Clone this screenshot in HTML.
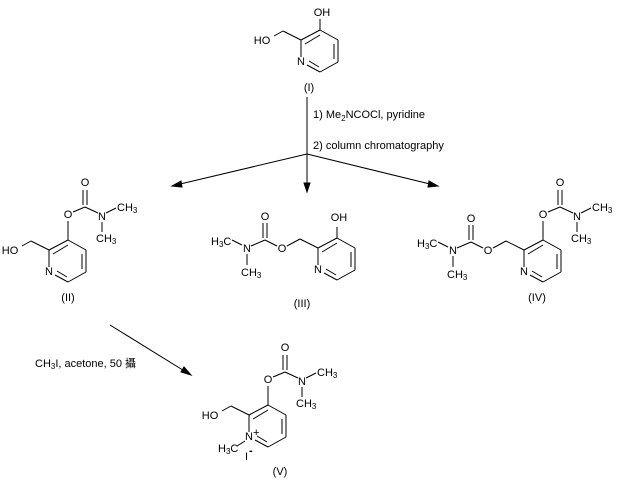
<!DOCTYPE html>
<html><head><style>
body{margin:0;background:#fff;}
svg{display:block;}
text{font-family:"Liberation Sans","Noto Sans CJK SC",sans-serif;font-size:11px;fill:#000;}
.c{text-anchor:middle;dominant-baseline:central;}
</style></head><body>
<svg width="617" height="488" viewBox="0 0 617 488" xmlns="http://www.w3.org/2000/svg" stroke="#000" stroke-width="1" fill="none">
<defs>
<g id="ring">
<line x1="-19" y1="10" x2="0" y2="0"/>
<line x1="0" y1="0" x2="18" y2="10"/>
<line x1="18" y1="10" x2="18" y2="32"/>
<line x1="18" y1="32" x2="0" y2="42"/>
<line x1="0" y1="42" x2="-13" y2="35"/>
<line x1="-19" y1="27" x2="-19" y2="10"/>
<line x1="-15" y1="14" x2="0" y2="5"/>
<line x1="14" y1="14" x2="14" y2="29"/>
<line x1="-1" y1="37" x2="-11" y2="31"/>
<line x1="-19" y1="10" x2="-37" y2="1"/>
</g>
<g id="carbU">
<line x1="0" y1="0" x2="0" y2="-19"/>
<line x1="5" y1="-28" x2="17" y2="-33"/>
<line x1="15" y1="-35" x2="15" y2="-50"/>
<line x1="19" y1="-35" x2="19" y2="-50"/>
<line x1="17" y1="-33" x2="30" y2="-27"/>
<line x1="38" y1="-27" x2="48" y2="-32"/>
<line x1="34" y1="-18" x2="34" y2="-8"/>
</g>
<g id="carbL">
<line x1="-37" y1="1" x2="-50" y2="8"/>
<line x1="-60" y1="8" x2="-72" y2="2"/>
<line x1="-74" y1="0" x2="-74" y2="-15"/>
<line x1="-70" y1="0" x2="-70" y2="-15"/>
<line x1="-72" y1="2" x2="-86" y2="8"/>
<line x1="-95" y1="7" x2="-105" y2="2"/>
<line x1="-90" y1="16" x2="-90" y2="27"/>
</g>
</defs>

<!-- I -->
<g transform="translate(320,30)">
<use href="#ring"/>
<line x1="0" y1="0" x2="0" y2="-11"/>
<line x1="-37" y1="1" x2="-46" y2="6"/>
<g stroke="none">
<text class="c" x="2" y="-17">OH</text>
<text class="c" x="-58" y="11">HO</text>
<text class="c" x="-19" y="32">N</text>
<text class="c" x="-11" y="58">(I)</text>
</g>
</g>

<!-- arrows -->
<line x1="307" y1="97" x2="307" y2="186"/>
<line x1="307" y1="154" x2="176" y2="185"/>
<line x1="307" y1="154" x2="434" y2="185"/>
<polygon points="307,192 304,183 310,183" fill="#000"/>
<polygon points="172,186 181,181 182,187" fill="#000"/>
<polygon points="438,186 428,187 429,181" fill="#000"/>
<g stroke="none">
<text x="313" y="118">1) Me<tspan font-size="8" dy="3">2</tspan><tspan dy="-3">NCOCl, pyridine</tspan></text>
<text x="313" y="149">2) column chromatography</text>
</g>

<!-- II -->
<g transform="translate(68,240)">
<use href="#ring"/>
<use href="#carbU"/>
<line x1="-37" y1="1" x2="-46" y2="6"/>
<g stroke="none">
<text class="c" x="0" y="-25">O</text>
<text class="c" x="17" y="-57">O</text>
<text class="c" x="34" y="-23">N</text>
<text x="49" y="-29">CH<tspan font-size="8" dy="2">3</tspan></text>
<text x="28" y="2">CH<tspan font-size="8" dy="2">3</tspan></text>
<text class="c" x="-58" y="11">HO</text>
<text class="c" x="-19" y="32">N</text>
<text class="c" x="0" y="58">(II)</text>
</g>
</g>

<!-- III -->
<g transform="translate(337,238)">
<use href="#ring"/>
<use href="#carbL"/>
<line x1="0" y1="0" x2="0" y2="-11"/>
<g stroke="none">
<text class="c" x="2" y="-20">OH</text>
<text class="c" x="-19" y="32">N</text>
<text class="c" x="-55" y="11">O</text>
<text class="c" x="-72" y="-21">O</text>
<text class="c" x="-90" y="11">N</text>
<text x="-126" y="7">H<tspan font-size="8" dy="2">3</tspan><tspan dy="-2">C</tspan></text>
<text x="-96" y="38">CH<tspan font-size="8" dy="2">3</tspan></text>
<text class="c" x="-35" y="66">(III)</text>
</g>
</g>

<!-- IV -->
<g transform="translate(543,240)">
<use href="#ring"/>
<use href="#carbU"/>
<use href="#carbL"/>
<g stroke="none">
<text class="c" x="0" y="-25">O</text>
<text class="c" x="17" y="-57">O</text>
<text class="c" x="34" y="-23">N</text>
<text x="49" y="-29">CH<tspan font-size="8" dy="2">3</tspan></text>
<text x="28" y="2">CH<tspan font-size="8" dy="2">3</tspan></text>
<text class="c" x="-19" y="32">N</text>
<text class="c" x="-55" y="11">O</text>
<text class="c" x="-72" y="-21">O</text>
<text class="c" x="-90" y="11">N</text>
<text x="-126" y="7">H<tspan font-size="8" dy="2">3</tspan><tspan dy="-2">C</tspan></text>
<text x="-96" y="38">CH<tspan font-size="8" dy="2">3</tspan></text>
<text class="c" x="-6" y="58">(IV)</text>
</g>
</g>

<!-- lower arrow -->
<line x1="110" y1="325" x2="186" y2="372"/>
<polygon points="191,375 181,372 184,367" fill="#000"/>
<g stroke="none">
<text x="35" y="367">CH<tspan font-size="8" dy="2">3</tspan><tspan dy="-2">I, acetone, 50 攝</tspan></text>
</g>

<!-- V -->
<g transform="translate(268,405)">
<use href="#ring"/>
<use href="#carbU"/>
<line x1="-37" y1="1" x2="-46" y2="6"/>
<line x1="-23" y1="36" x2="-31" y2="41"/>
<g stroke="none">
<text class="c" x="0" y="-25">O</text>
<text class="c" x="17" y="-57">O</text>
<text class="c" x="34" y="-23">N</text>
<text x="49" y="-29">CH<tspan font-size="8" dy="2">3</tspan></text>
<text x="28" y="2">CH<tspan font-size="8" dy="2">3</tspan></text>
<text class="c" x="-58" y="11">HO</text>
<text class="c" x="-19" y="32">N</text>
<text x="-15" y="31" font-size="9">+</text>
<text x="-50" y="47">H<tspan font-size="8" dy="2">3</tspan><tspan dy="-2">C</tspan></text>
<text x="-23" y="55">I</text>
<text x="-19" y="49" font-size="10" font-weight="bold">-</text>
<text class="c" x="12" y="67">(V)</text>
</g>
</g>
</svg>
</body></html>
